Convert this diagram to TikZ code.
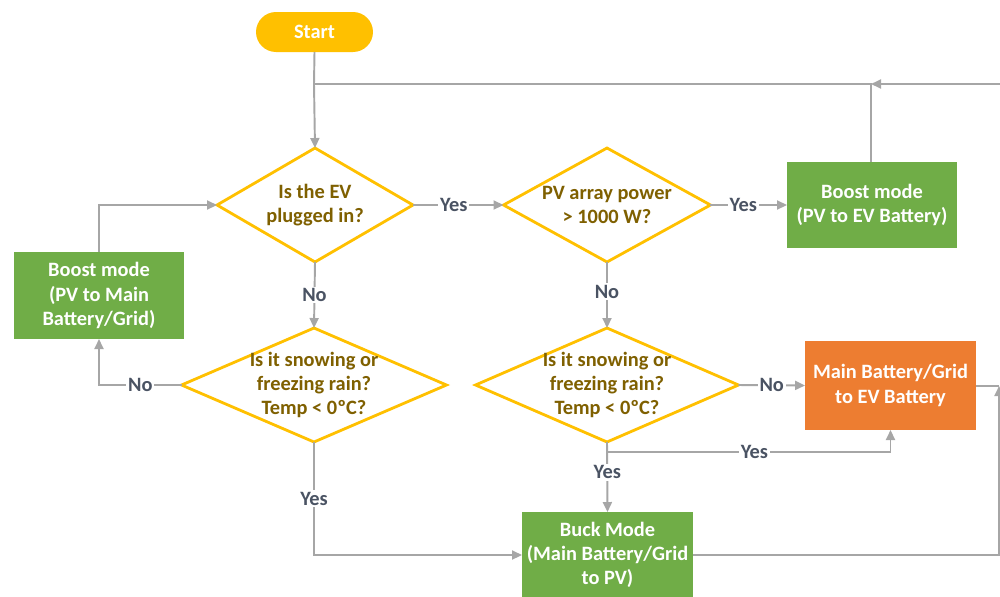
\documentclass[tikz,border=0pt]{standalone}
\usepackage{fontspec}
\setmainfont{Carlito}
\usetikzlibrary{shapes.geometric,arrows.meta}
\definecolor{gold}{HTML}{FFC000}
\definecolor{golddark}{HTML}{7F6000}
\definecolor{grn}{HTML}{70AD47}
\definecolor{org}{HTML}{ED7D31}
\definecolor{ln}{HTML}{A6A6A6}
\definecolor{lbl}{HTML}{4A5363}
\tikzset{
  base/.style={font=\fontsize{11.6}{13.8}\selectfont\bfseries},
  startbox/.style={base, fill=gold, text=white, rounded corners=0.4cm, minimum width=2.34cm, minimum height=0.8cm, inner sep=0pt, outer sep=0pt},
  dia/.style={diamond, draw=gold, line width=1.6pt, fill=white, inner sep=0pt, outer sep=0pt, minimum height=2.28cm},
  dtext/.style={base, text=golddark, align=center},
  gbox/.style={base, fill=grn, text=white, align=center, inner sep=0pt, outer sep=0pt, minimum width=3.4cm},
  obox/.style={base, fill=org, text=white, align=center, inner sep=0pt, outer sep=0pt, minimum width=3.42cm},
  conn/.style={draw=ln, line width=1.1pt},
  arr/.style={conn, -{Triangle[length=0.2cm, width=0.18cm]}},
  lab/.style={base, text=lbl, fill=white, inner sep=1pt},
}
\begin{document}
\begin{tikzpicture}[x=0.02cm, y=-0.02cm]
\useasboundingbox (0,0) rectangle (1000,596);
% nodes
\node[startbox] (start) at (314.5,32) {Start};
\node[dia, minimum width=3.92cm] (d1) at (315,205) {};
\node[dtext] (d1t) at (d1) {Is the EV\\plugged in?};
\node[dia, minimum width=4.14cm] (d2) at (607,205) {};
\node[dtext] (d2t) at (d2) {PV array power\\> 1000 W?};
\node[dia, minimum width=5.3cm] (d3) at (314,385) {};
\node[dtext] (d3t) at (d3) {Is it snowing or\\freezing rain?\\Temp < 0ºC?};
\node[dia, minimum width=5.26cm] (d4) at (607,385) {};
\node[dtext] (d4t) at (d4) {Is it snowing or\\freezing rain?\\Temp < 0ºC?};
\node[gbox, minimum height=1.72cm] (ev) at (872,205) {Boost mode\\(PV to EV Battery)};
\node[gbox, minimum height=1.74cm] (mainb) at (99,295.5) {Boost mode\\(PV to Main\\Battery/Grid)};
\node[obox, minimum height=1.78cm] (grid) at (890.5,385.5) {Main Battery/Grid\\to EV Battery};
\node[gbox, minimum width=3.42cm, minimum height=1.72cm] (buck) at (607.5,555) {Buck Mode\\(Main Battery/Grid\\to PV)};
% junction coordinates
\coordinate (tr) at (1000,84);
\coordinate (tj) at (871,84);
\coordinate (tl) at (314,84);
\coordinate (rr) at (999,386);
\coordinate (c4) at (607,452);
\coordinate (c3) at (99,385);
% connectors
\draw[conn] (start.south) -- (tl);
\draw[conn] (ev.north -| tj) -- (tj) -- (tl);
\draw[arr] (tr) -- (tj);
\draw[arr] (tl) -- (d1.north);
\draw[arr] (d1.east) -- node[lab, pos=0.45] {Yes} (d2.west);
\draw[arr] (d2.east) -- node[lab, pos=0.43] {Yes} (ev.west);
\draw[arr] (d1.south) -- node[lab] {No} (d3.north);
\draw[arr] (d2.south) -- node[lab, pos=0.45] {No} (d4.north);
\draw[arr] (d3.west) -- node[lab] {No} (c3) -- (mainb.south);
\draw[arr] (mainb.north) |- (d1.west);
\draw[arr] (d3.south) |- node[lab, pos=0.25] {Yes} (buck.west);
\draw[arr] (d4.east) -- node[lab] {No} (grid.west);
\draw[conn] (d4.south) -- (c4);
\draw[arr] (c4) -| node[lab, pos=0.26] {Yes} (grid.south);
\draw[arr] (d4.south) -- node[lab, pos=0.43] {Yes} (buck.north);
\draw[arr] (buck.east) -| (rr);
\draw[conn] (grid.east |- rr) -- (rr);
\end{tikzpicture}
\end{document}
